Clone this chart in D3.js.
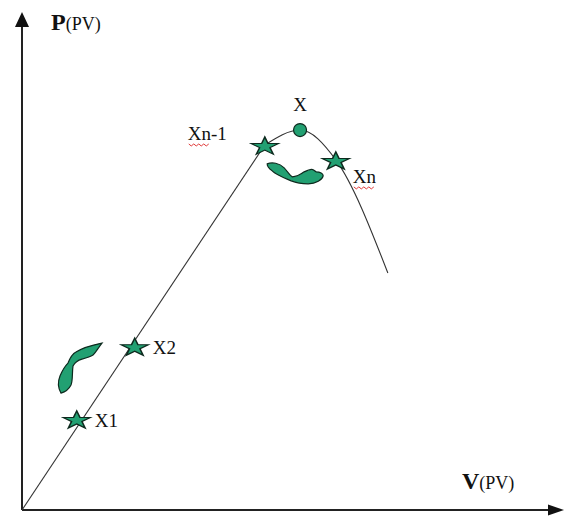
<!DOCTYPE html>
<html>
<head>
<meta charset="utf-8">
<script src="https://cdn.jsdelivr.net/npm/d3@7"></script>
<style>
  body { margin: 0; background: #fff; }
  text { font-family: "Liberation Serif", "DejaVu Serif", serif; fill: #111; }
</style>
</head>
<body>
<div id="chart"></div>
<script>
'use strict';

// P-V curve, values in percent of the axis length
const rampV = [0, 44.8];
const rampP = [0, 73.3];
const peakV = [44.8, 51.3, 57.9, 67.5];
const peakP = [73.3, 76.3, 70.3, 47.6];

// operating points
const markerNames = ["X1", "X2", "Xn-1", "X", "Xn"];
const markerV = [10.1, 20.8, 44.8, 51.3, 57.9];
const markerP = [18.3, 32.9, 73.3, 76.3, 70.3];
const markerShape = ["star", "star", "star", "circle", "star"];

// curved arrows, anchored in V-P space
const arrowV = [50.4, 10.7];
const arrowP = [67.3, 28.5];

const axisNames = ["P", "V"];
const axisUnits = ["(PV)", "(PV)"];

const width = 568, height = 517;
const green = "#22a072";

const x = d3.scaleLinear().domain([0, 100]).range([22, 564]);
const y = d3.scaleLinear().domain([0, 100]).range([510, 12]);

const svg = d3.select("#chart").append("svg")
    .attr("width", width)
    .attr("height", height);

// axes, no ticks
svg.append("line")
    .attr("x1", x(0)).attr("y1", y(0))
    .attr("x2", x(0)).attr("y2", y(100) + 12)
    .attr("stroke", "#222").attr("stroke-width", 2);
svg.append("line")
    .attr("x1", x(0)).attr("y1", y(0))
    .attr("x2", x(100) - 12).attr("y2", y(0))
    .attr("stroke", "#222").attr("stroke-width", 2);

svg.append("path")
    .attr("d", `M${x(0)},${y(100)} L${x(0) - 7},${y(100) + 15} L${x(0) + 7},${y(100) + 15} Z`)
    .attr("fill", "#111");
svg.append("path")
    .attr("d", `M${x(100)},${y(0)} L${x(100) - 16},${y(0) - 5.5} L${x(100) - 16},${y(0) + 5.5} Z`)
    .attr("fill", "#111");

// axis titles
let pLab = svg.append("text").attr("x", 51).attr("y", 30);
pLab.append("tspan").attr("font-weight", "bold").attr("font-size", 24).text(axisNames[0]);
pLab.append("tspan").attr("font-size", 18).text(axisUnits[0]);

let vLab = svg.append("text").attr("x", 462).attr("y", 489);
vLab.append("tspan").attr("font-weight", "bold").attr("font-size", 24).text(axisNames[1]);
vLab.append("tspan").attr("font-size", 18).text(axisUnits[1]);

// curve
let line = d3.line().x(d => x(d[0])).y(d => y(d[1]));

svg.append("path")
    .datum(d3.zip(rampV, rampP))
    .attr("d", line)
    .attr("fill", "none")
    .attr("stroke", "#333")
    .attr("stroke-width", 1.1);

svg.append("path")
    .datum(d3.zip(peakV, peakP))
    .attr("d", line.curve(d3.curveMonotoneX))
    .attr("fill", "none")
    .attr("stroke", "#333")
    .attr("stroke-width", 1.1);

// curved green arrows (shape in local pixels around the anchor)
const arrowShapes = [
    "M-28,-11 C-23,-13 -16,-12 -11,-7 C-8,-4 -6,0 -3,2 C1,2 5,0 9,-3 C13,-5 17,-6 18,-5 L21,-3 C25,-3 28,-1 28,1 C27,5 21,9 13,9 C7,9 1,8 -4,6 C-11,3 -19,0 -23,-4 C-26,-6 -28,-9 -28,-11 Z",
    "M-19,25 C-22,20 -22,13 -20,8 C-18,3 -15,-2 -12,-5 C-10,-10 -8,-14 -4,-16 C2,-20 12,-23 22,-25 C18,-20 16,-16 13,-13 C10,-11 6,-10 2,-9 C-2,-8 -5,-6 -7,-2 C-8,4 -7,12 -9,17 C-11,21 -15,24 -19,25 Z"
];

svg.append("g").selectAll("path")
    .data(d3.zip(arrowV, arrowP, arrowShapes))
    .enter().append("path")
    .attr("transform", d => `translate(${x(d[0])},${y(d[1])})`)
    .attr("d", d => d[2])
    .attr("fill", green)
    .attr("stroke", "#0d2a1e")
    .attr("stroke-width", 1.2);

// markers
let markers = d3.zip(markerNames, markerV, markerP, markerShape);
let star = d3.symbol(d3.symbolStar).size(230);

let mk = svg.append("g").selectAll("g")
    .data(markers)
    .enter().append("g")
    .attr("transform", d => `translate(${x(d[1])},${y(d[2])})`);

mk.filter(d => d[3] === "star").append("path")
    .attr("d", star)
    .attr("transform", "translate(0,1.5) scale(1,0.66)")
    .attr("fill", green)
    .attr("stroke", "#0d2a1e")
    .attr("stroke-width", 1.6);

mk.filter(d => d[3] === "circle").append("circle")
    .attr("r", 6.5)
    .attr("fill", green)
    .attr("stroke", "#0d2a1e")
    .attr("stroke-width", 1.2);

// label offsets from each marker
const labelPos = {
    "X1": { dx: 18, dy: 8, anchor: "start" },
    "X2": { dx: 18, dy: 8, anchor: "start" },
    "Xn-1": { dx: -38, dy: -5, anchor: "end" },
    "X": { dx: 0, dy: -19, anchor: "middle" },
    "Xn": { dx: 17, dy: 23, anchor: "start" }
};

let labels = mk.append("text")
    .attr("x", d => labelPos[d[0]].dx)
    .attr("y", d => labelPos[d[0]].dy)
    .attr("text-anchor", d => labelPos[d[0]].anchor)
    .attr("font-size", 19)
    .text(d => d[0]);

// red spell-check squiggle under "Xn"
labels.filter(d => d[0].startsWith("Xn")).each(function(d) {
    let box = this.getBBox();
    let w = this.getSubStringLength(0, 2);
    let x0 = box.x + 1, y0 = labelPos[d[0]].dy + 4;
    let pts = d3.range(0, Math.floor(w / 2.5)).map(i => [x0 + i * 2.5, y0 + (i % 2 ? 2 : 0)]);
    d3.select(this.parentNode).append("path")
        .attr("d", d3.line()(pts))
        .attr("fill", "none")
        .attr("stroke", "#e03a3a")
        .attr("stroke-width", 1);
});
</script>
</body>
</html>
